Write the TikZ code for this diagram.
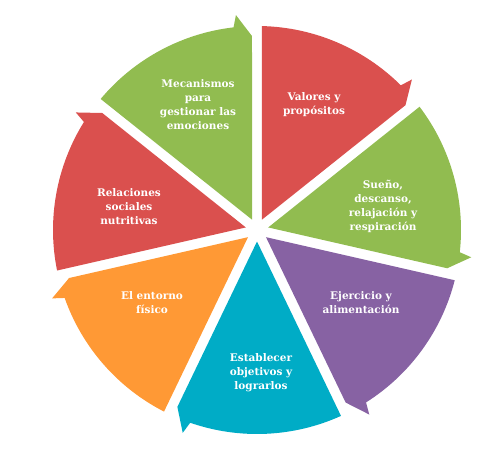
\documentclass[tikz,border=0pt]{standalone}
\usepackage{fontspec}
\setmainfont{DejaVu Serif}
\definecolor{segGreen}{RGB}{145,188,80}
\definecolor{segRed}{RGB}{218,80,78}
\definecolor{segPurple}{RGB}{135,98,163}
\definecolor{segCyan}{RGB}{0,172,198}
\definecolor{segOrange}{RGB}{255,153,53}
\begin{document}
\begin{tikzpicture}[x=1pt,y=1pt,
  lbl/.style={text=white,font=\bfseries\fontsize{10.5}{14}\selectfont,align=center,inner sep=0pt}]
\useasboundingbox (0,0) rectangle (500,456);
\coordinate (c) at (257,226);
% seven pie segments, each ending in an arrowhead pointing clockwise
\foreach \i/\col in {0/segGreen,1/segRed,2/segGreen,3/segPurple,4/segCyan,5/segOrange,6/segRed}{
  \pgfmathsetmacro\B{90-51.4286*\i}
  \pgfmathsetmacro\A{\B+51.4286}
  \pgfmathsetmacro\M{\B+25.7143}
  \fill[\col] ([shift={({\M}:11.5)}]c)
    -- ([shift={({\A-1.4}:204)}]c)
    arc[start angle=\A-1.4, end angle=\B+6.6, radius=204]
    -- ([shift={({\B+5.6}:216)}]c)
    -- ([shift={({\B+1.48}:194)}]c)
    -- cycle;
}
\node[lbl] (mec) at (198,351) {Mecanismos\\para\\gestionar las\\emociones};
\node[lbl] (val) at (314,351) {Valores y\\propósitos};
\node[lbl] (sue) at (383,250) {Sueño,\\descanso,\\relajación y\\respiración};
\node[lbl] (eje) at (361,153) {Ejercicio y\\alimentación};
\node[lbl] (est) at (261,83) {Establecer\\objetivos y\\lograrlos};
\node[lbl] (ent) at (152,153) {El entorno\\físico};
\node[lbl] (rel) at (129,249) {Relaciones\\sociales\\nutritivas};
\end{tikzpicture}
\end{document}
